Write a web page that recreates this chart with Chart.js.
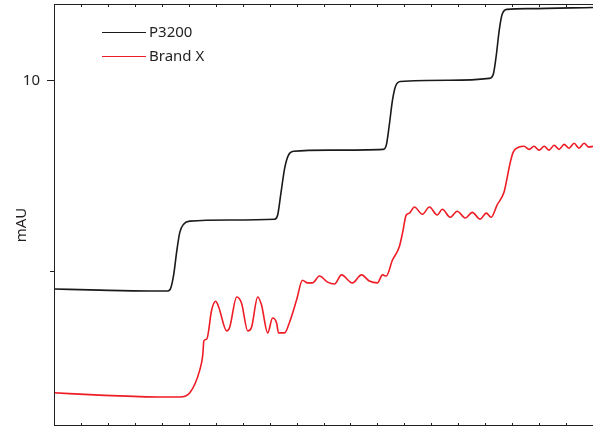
<!DOCTYPE html>
<html>
<head>
<meta charset="utf-8">
<script src="https://cdn.jsdelivr.net/npm/chart.js@4/dist/chart.umd.min.js"></script>
<style>
  html, body { margin: 0; padding: 0; background: #fff; }
  #wrap { width: 593px; height: 427px; position: relative; }
</style>
</head>
<body>
<div id="wrap"><canvas id="grafico"></canvas></div>
<script>
// step gradient traces, time (min) vs absorbance (mAU)
const tiempoP3200 = [0, 1.70, 3.56, 4.22, 4.33, 4.44, 4.56, 4.67, 4.81, 5.04, 6.52, 8.19, 8.30, 8.41, 8.56, 8.70, 8.89, 10.22, 12.22, 12.33, 12.44, 12.56, 12.67, 12.85, 14.67, 16.15, 16.30, 16.41, 16.52, 16.63, 16.81, 17.63, 20];
const p3200 = [4.53, 4.50, 4.48, 4.48, 4.55, 4.90, 5.55, 6.02, 6.23, 6.31, 6.34, 6.36, 6.47, 6.99, 7.70, 8.04, 8.14, 8.17, 8.19, 8.30, 8.82, 9.48, 9.84, 9.97, 10.00, 10.05, 10.16, 10.65, 11.31, 11.73, 11.86, 11.88, 11.91];

const tiempoBrandX = [0, 1.70, 3.93, 4.67, 5.04, 5.41, 5.52, 5.56, 5.67, 5.85, 6.00, 6.11, 6.41, 6.52, 6.78, 6.96, 7.19, 7.33, 7.56, 7.70, 7.93, 8.11, 8.26, 8.33, 8.56, 8.74, 9.00, 9.22, 9.41, 9.59, 9.85, 10.15, 10.41, 10.67, 11.07, 11.41, 11.70, 12.00, 12.19, 12.33, 12.56, 12.81, 12.93, 13.07, 13.19, 13.37, 13.67, 13.93, 14.22, 14.41, 14.70, 14.96, 15.26, 15.52, 15.81, 16.04, 16.22, 16.44, 16.70, 16.81, 16.93, 17.04, 17.26, 17.44, 17.63, 17.81, 18.00, 18.19, 18.37, 18.56, 18.74, 18.93, 19.11, 19.30, 19.48, 19.67, 19.85, 20];
const brandX = [1.81, 1.75, 1.70, 1.70, 1.81, 2.41, 2.80, 3.17, 3.22, 3.98, 4.21, 4.06, 3.43, 3.53, 4.32, 4.16, 3.43, 3.53, 4.32, 4.11, 3.38, 3.77, 3.64, 3.38, 3.38, 3.66, 4.24, 4.76, 4.69, 4.69, 4.87, 4.71, 4.66, 4.90, 4.69, 4.90, 4.74, 4.69, 4.90, 4.87, 5.29, 5.63, 5.99, 6.47, 6.52, 6.68, 6.49, 6.68, 6.47, 6.62, 6.41, 6.57, 6.39, 6.54, 6.36, 6.52, 6.41, 6.73, 7.07, 7.43, 7.85, 8.12, 8.25, 8.27, 8.19, 8.27, 8.17, 8.27, 8.17, 8.30, 8.19, 8.32, 8.22, 8.35, 8.22, 8.35, 8.25, 8.27];

const ticksY = [5, 10];
const etiquetasY = { 10: "10" };

const colorEje = "#231f20";
const fuente = "'Noto Sans', 'DejaVu Sans', sans-serif";

function puntos(xs, ys) {
  return xs.map((x, i) => ({ x: x, y: ys[i] }));
}

// ejes, marcas hacia dentro, titulo y leyenda
const marcoPlugin = {
  id: "marco",
  afterDraw(chart) {
    const ctx = chart.ctx;
    const area = chart.chartArea;
    const sx = chart.scales.x;
    const sy = chart.scales.y;
    ctx.save();
    ctx.strokeStyle = colorEje;
    ctx.lineWidth = 1;
    ctx.beginPath();
    ctx.moveTo(area.left + 0.5, area.top + 0.5);
    ctx.lineTo(area.right, area.top + 0.5);
    ctx.moveTo(area.left + 0.5, area.top);
    ctx.lineTo(area.left + 0.5, area.bottom);
    ctx.moveTo(area.left, area.bottom - 0.5);
    ctx.lineTo(area.right, area.bottom - 0.5);
    for (let v = 1; v <= sx.max; v++) {
      const px = Math.round(sx.getPixelForValue(v)) + 0.5;
      ctx.moveTo(px, area.top);
      ctx.lineTo(px, area.top + 3);
      ctx.moveTo(px, area.bottom);
      ctx.lineTo(px, area.bottom - 3);
    }
    ticksY.forEach((v) => {
      const py = Math.round(sy.getPixelForValue(v)) + 0.5;
      const largo = etiquetasY[v] ? 7 : 4;
      ctx.moveTo(area.left - largo, py);
      ctx.lineTo(area.left, py);
    });
    ctx.stroke();

    // titulo eje y
    ctx.fillStyle = colorEje;
    ctx.font = "15px " + fuente;
    ctx.textAlign = "center";
    ctx.textBaseline = "middle";
    ctx.translate(22, 225);
    ctx.rotate(-Math.PI / 2);
    ctx.fillText("mAU", 0, 0);
    ctx.restore();

    // leyenda
    ctx.save();
    ctx.font = "15px " + fuente;
    ctx.textBaseline = "middle";
    ctx.textAlign = "left";
    chart.data.datasets.forEach((ds, i) => {
      const y = 32 + i * 24;
      ctx.strokeStyle = ds.borderColor;
      ctx.lineWidth = 1.2;
      ctx.beginPath();
      ctx.moveTo(102, y + 0.5);
      ctx.lineTo(146, y + 0.5);
      ctx.stroke();
      ctx.fillStyle = colorEje;
      ctx.fillText(ds.label, 149, y + 1);
    });
    ctx.restore();
  },
};

new Chart(document.getElementById("grafico"), {
  type: "line",
  data: {
    datasets: [
      {
        label: "P3200",
        data: puntos(tiempoP3200, p3200),
        borderColor: "#1a1a1a",
        borderWidth: 1.6,
        pointRadius: 0,
        cubicInterpolationMode: "monotone",
        fill: false,
      },
      {
        label: "Brand X",
        data: puntos(tiempoBrandX, brandX),
        borderColor: "#ee1c25",
        borderWidth: 1.6,
        pointRadius: 0,
        cubicInterpolationMode: "monotone",
        fill: false,
      },
    ],
  },
  options: {
    responsive: true,
    maintainAspectRatio: false,
    animation: false,
    layout: { padding: { top: 4, right: 0, bottom: 0, left: 0 } },
    plugins: { legend: { display: false }, tooltip: { enabled: false } },
    scales: {
      x: {
        type: "linear",
        min: 0,
        max: 20,
        grid: { display: false, drawTicks: false },
        border: { display: false },
        ticks: { display: false, stepSize: 1 },
        afterFit: (s) => {
          s.height = 1;
          s.paddingLeft = 0;
          s.paddingRight = 0;
        },
      },
      y: {
        type: "linear",
        min: 0.94,
        max: 12,
        grid: { display: false, drawTicks: false },
        border: { display: false },
        afterBuildTicks: (s) => { s.ticks = ticksY.map((v) => ({ value: v })); },
        ticks: {
          padding: 14,
          color: colorEje,
          font: { family: fuente, size: 15 },
          callback: (v) => etiquetasY[v] || "",
        },
        afterFit: (s) => {
          s.width = 54;
          s.paddingTop = 0;
          s.paddingBottom = 0;
        },
      },
    },
  },
  plugins: [marcoPlugin],
});
</script>
</body>
</html>
